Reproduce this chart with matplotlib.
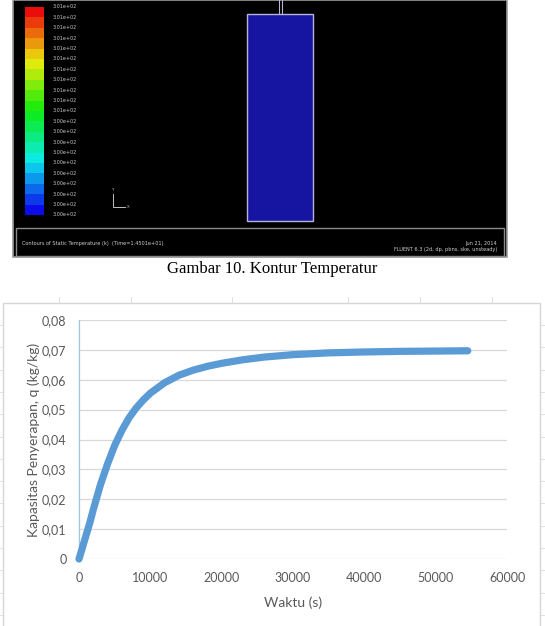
import matplotlib
matplotlib.use("Agg")
import matplotlib.pyplot as plt
from matplotlib.patches import Rectangle
from matplotlib.ticker import FixedLocator, FixedFormatter
import colorsys

# ---------------- data ----------------
waktu = [0, 500, 1000, 1500, 2000, 3000, 4000, 5000, 6000, 7000, 8000,
         9000, 10000, 12000, 14000, 16000, 18000, 20000, 23000, 26000,
         30000, 35000, 40000, 45000, 50000, 54500]
kapasitas = [0.0, 0.0040, 0.0080, 0.0120, 0.0165, 0.0248, 0.0318, 0.0380,
             0.0430, 0.0472, 0.0505, 0.0532, 0.0555, 0.0590, 0.0615, 0.0632,
             0.0645, 0.0655, 0.0667, 0.0676, 0.0684, 0.0690, 0.0693, 0.0695,
             0.0696, 0.0697]

x_ticks = [0, 10000, 20000, 30000, 40000, 50000, 60000]
x_ticklabels = ["0", "10000", "20000", "30000", "40000", "50000", "60000"]
y_ticks = [0, 0.01, 0.02, 0.03, 0.04, 0.05, 0.06, 0.07, 0.08]
y_ticklabels = ["0", "0,01", "0,02", "0,03", "0,04", "0,05", "0,06", "0,07", "0,08"]

contour_labels = ["3.01e+02"] * 11 + ["3.00e+02"] * 10   # top -> bottom
caption = "Gambar 10. Kontur Temperatur"
x_title = "Waktu (s)"
y_title = "Kapasitas Penyerapan, q (kg/kg)"

W, H = 545, 626
fig = plt.figure(figsize=(W / 100, H / 100), dpi=100)
fig.patch.set_facecolor("white")

# ------------- screenshot panel (pixel coordinates) -------------
deco = fig.add_axes([0, 0, 1, 1])
deco.set_xlim(0, W)
deco.set_ylim(H, 0)
deco.axis("off")
deco.set_zorder(0)

deco.add_patch(Rectangle((13, 0), 494, 257, facecolor="black",
                         edgecolor="#9a9a9a", lw=1.2))
deco.add_patch(Rectangle((16, 228), 488, 28, facecolor="black",
                         edgecolor="#8a8a8a", lw=1.0))

# colour bar (FLUENT rainbow)
n_bands = len(contour_labels) - 1
cb_top, cb_bot = 7, 215
band_h = (cb_bot - cb_top) / n_bands
for i in range(n_bands):
    frac = i / (n_bands - 1)          # 0 top (red) -> 1 bottom (blue)
    r, g, b = colorsys.hsv_to_rgb(frac * 0.667, 0.95, 0.92)
    deco.add_patch(Rectangle((25, cb_top + i * band_h), 19, band_h,
                             facecolor=(r, g, b), edgecolor="none"))
for i, lab in enumerate(contour_labels):
    deco.text(53, cb_top + i * band_h, lab, fontsize=3.5, color="#c8c8c8",
              ha="left", va="center", family="DejaVu Sans")

# domain
deco.add_patch(Rectangle((247, 14), 66, 207, facecolor="#1515A2",
                         edgecolor="#b4b4d6", lw=1.0))
deco.plot([279, 279], [0, 14], color="#b4b4d6", lw=0.8)
deco.plot([282, 282], [0, 14], color="#b4b4d6", lw=0.8)

# axis triad
deco.plot([113, 113, 125], [194, 207, 207], color="#c0c0c0", lw=0.7)
deco.text(113, 192, "Y", fontsize=2.8, color="#c0c0c0", ha="center", va="bottom")
deco.text(127, 207, "X", fontsize=2.8, color="#c0c0c0", ha="left", va="center")

deco.text(22, 243, "Contours of Static Temperature (k)  (Time=1.4501e+01)",
          fontsize=3.6, color="#d0d0d0", ha="left", va="center")
deco.text(497, 243, "Jun 21, 2014", fontsize=3.6, color="#d0d0d0",
          ha="right", va="center")
deco.text(497, 250, "FLUENT 6.3 (2d, dp, pbns, ske, unsteady)", fontsize=3.6,
          color="#d0d0d0", ha="right", va="center")

deco.text(272, 269, caption, fontsize=12, family="Liberation Serif",
          ha="center", va="center", color="black")

# chart frame and document marks
deco.add_patch(Rectangle((3, 303), 537, 340, facecolor="white",
                         edgecolor="#d6d6d6", lw=1.0))
for xm in [59, 131, 232, 348, 420, 492]:
    deco.plot([xm, xm], [297, 303], color="#dcdcdc", lw=0.6)
ym = 325
while ym < H:
    deco.plot([540, 545], [ym, ym], color="#dcdcdc", lw=0.6)
    deco.plot([0, 3], [ym, ym], color="#dcdcdc", lw=0.6)
    ym += 22.3

# ---------------- chart ----------------
x0, x1, y0, y1 = 79, 507, 320, 559
ax = fig.add_axes([x0 / W, (H - y1) / H, (x1 - x0) / W, (y1 - y0) / H])
ax.set_zorder(2)
ax.patch.set_alpha(0)
ax.set_xlim(0, 60000)
ax.set_ylim(0, 0.08)
for s in ["top", "right", "bottom"]:
    ax.spines[s].set_visible(False)
ax.spines["left"].set_color("#9DC3E6")
ax.spines["left"].set_linewidth(0.9)
ax.yaxis.grid(True, color="#d9d9d9", lw=0.9)
ax.set_axisbelow(True)
ax.xaxis.set_major_locator(FixedLocator(x_ticks))
ax.xaxis.set_major_formatter(FixedFormatter(x_ticklabels))
ax.yaxis.set_major_locator(FixedLocator(y_ticks))
ax.yaxis.set_major_formatter(FixedFormatter(y_ticklabels))
ax.tick_params(axis="both", length=0, colors="#595959", labelsize=9)
ax.tick_params(axis="x", pad=9)
ax.tick_params(axis="y", pad=9)
for lab in ax.get_xticklabels() + ax.get_yticklabels():
    lab.set_family("Lato")

ax.plot(waktu, kapasitas, color="#5B9BD5", lw=5.2, solid_capstyle="round",
        solid_joinstyle="round", clip_on=False, zorder=3)

ax.set_xlabel(x_title, fontsize=10, color="#595959", family="Lato", labelpad=9)
ax.set_ylabel(y_title, fontsize=10, color="#595959", family="Lato", labelpad=1)

fig.savefig("out.png", dpi=100)
